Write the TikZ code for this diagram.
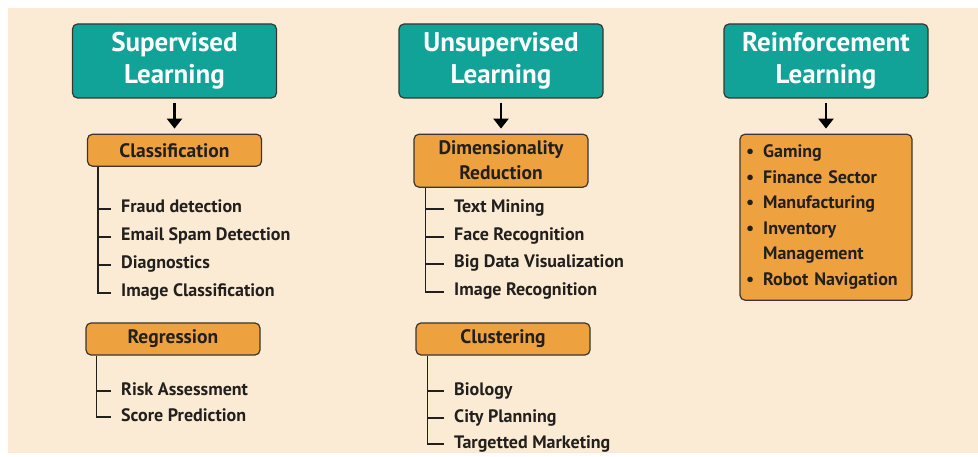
\documentclass[tikz,border=0pt]{standalone}
\usepackage{fontspec}
\setmainfont{PT Sans}
\usetikzlibrary{positioning,arrows.meta}
\definecolor{mlteal}{HTML}{12A398}
\definecolor{mlorange}{HTML}{EDA23F}
\definecolor{mlcream}{HTML}{FBEBD5}
\definecolor{boxline}{HTML}{3A3530}
\definecolor{textdark}{HTML}{231F1C}

\begin{document}
\begin{tikzpicture}
  [
    x=1pt,y=-1pt,
    head/.style={draw=boxline, fill=mlteal, rounded corners=5pt, line width=1.2pt, minimum width=204pt, minimum height=74pt, text=white, align=center, font=\fontsize{27}{32}\selectfont\bfseries},
    task/.style={draw=boxline, fill=mlorange, rounded corners=5pt, line width=1.2pt, minimum width=174pt, minimum height=32pt, align=center, text=textdark, font=\fontsize{19.5}{25}\selectfont\bfseries},
    leaf/.style={anchor=west, inner xsep=10pt, inner ysep=0pt, text height=13pt, text depth=5pt, text=textdark, font=\fontsize{18}{20}\selectfont\bfseries},
    tree/.style={draw=textdark, line width=1.2pt},
    down/.style={-{Triangle[length=10pt,width=15pt]}, line width=2.4pt, shorten <=4pt, shorten >=5pt},
    node distance=35pt
  ]
  \fill[white] (0,0) rectangle (978,457);
  \fill[mlcream] (8,8) rectangle (978,453);
  \useasboundingbox (0,0) rectangle (978,457);

  % the three kinds of learning
  \node[head] (sup) at (174.5,61) {Supervised\\Learning};
  \node[head] (uns) at (501,61) {Unsupervised\\Learning};
  \node[head] (rein) at (826,61) {Reinforcement\\Learning};

  \node[task, below=of sup] (cls) {Classification};
  \node[task, below=of uns, minimum height=53pt] (dim) {Dimensionality\\Reduction};
  \node[task, below=of rein, minimum width=172pt, minimum height=166pt, text width=160pt, inner xsep=6pt, align=left, font=\fontsize{18}{25.5}\selectfont\bfseries] (apps)
    {\textbullet\hspace{0.5em}Gaming\\ \textbullet\hspace{0.5em}Finance Sector\\ \textbullet\hspace{0.5em}Manufacturing\\ \textbullet\hspace{0.5em}Inventory\\ \phantom{\textbullet}\hspace{0.5em}Management\\ \textbullet\hspace{0.5em}Robot Navigation};

  \node[task] (reg) at (173,339) {Regression};
  \node[task] (clu) at (503,339) {Clustering};

  \draw[down] (sup) -- (cls);
  \draw[down] (uns) -- (dim);
  \draw[down] (rein) -- (apps);

  % classification
  \node[leaf] (fraud) at (111,209) {Fraud detection};
  \node[leaf] (spam) at (111,237) {Email Spam Detection};
  \node[leaf] (diag) at (111,265) {Diagnostics};
  \node[leaf] (imgcls) at (111,293) {Image Classification};
  % regression
  \node[leaf] (risk) at (111,391) {Risk Assessment};
  \node[leaf] (score) at (111,417) {Score Prediction};
  % dimensionality reduction
  \node[leaf] (mining) at (444,209) {Text Mining};
  \node[leaf] (face) at (444,237) {Face Recognition};
  \node[leaf] (bigdata) at (444,264) {Big Data Visualization};
  \node[leaf] (imgrec) at (444,292) {Image Recognition};
  % clustering
  \node[leaf] (bio) at (444,391) {Biology};
  \node[leaf] (city) at (444,418) {City Planning};
  \node[leaf] (market) at (444,444) {Targetted Marketing};

  \coordinate (clsT) at ([xshift=11pt]cls.south west);
  \coordinate (regT) at ([xshift=11pt]reg.south west);
  \coordinate (dimT) at ([xshift=12pt]dim.south west);
  \coordinate (cluT) at ([xshift=12pt]clu.south west);

  \foreach \leafname in {fraud,spam,diag,imgcls}
    \draw[tree] (clsT) |- (\leafname.west);
  \foreach \leafname in {risk,score}
    \draw[tree] (regT) |- (\leafname.west);
  \foreach \leafname in {mining,face,bigdata,imgrec}
    \draw[tree] (dimT) |- (\leafname.west);
  \foreach \leafname in {bio,city,market}
    \draw[tree] (cluT) |- (\leafname.west);
\end{tikzpicture}
\end{document}
